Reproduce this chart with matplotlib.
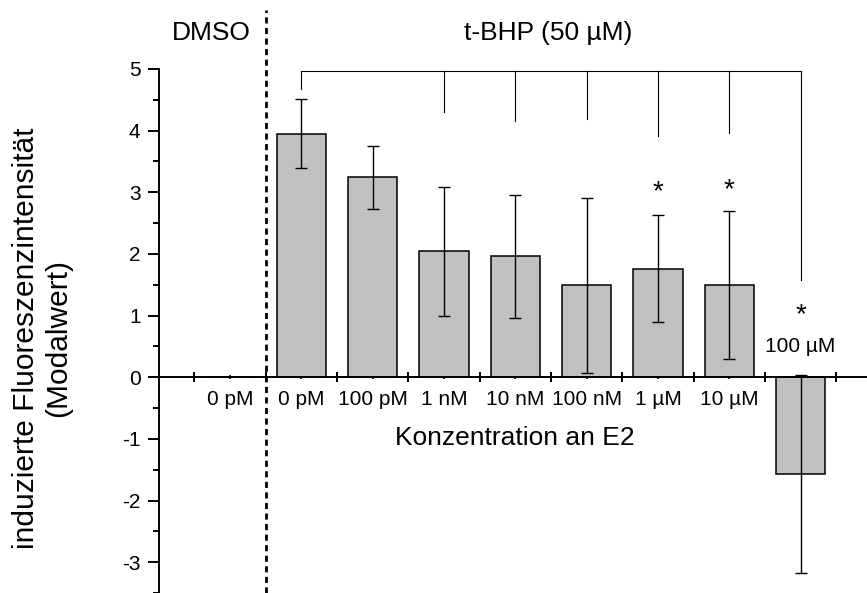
import matplotlib
matplotlib.use("Agg")
import matplotlib.pyplot as plt
import numpy as np

plt.rcParams['font.family'] = ['Liberation Sans', 'DejaVu Sans']
plt.rcParams['axes.unicode_minus'] = False

# ---- data ----
categories = ["0 pM", "0 pM", "100 pM", "1 nM", "10 nM", "100 nM", "1 µM", "10 µM", "100 µM"]
values = [0.0, 3.95, 3.24, 2.04, 1.96, 1.49, 1.76, 1.49, -1.57]
errors = [0.0, 0.56, 0.51, 1.05, 1.00, 1.42, 0.87, 1.20, 1.60]
has_err = [False, True, True, True, True, True, True, True, True]
significant = [False, False, False, False, False, False, True, True, True]
star_y = [None, None, None, None, None, None, 3.0, 3.03, 1.01]
bracket_from = 2
bracket_targets = [2, 4, 5, 6, 7, 8, 9]
bracket_drop_ends = [4.67, 4.30, 4.16, 4.19, 3.92, 3.96, 1.57]
bracket_level = 4.97
y_ticks = [-3, -2, -1, 0, 1, 2, 3, 4, 5]

W, H = 867, 593
fig = plt.figure(figsize=(W / 100, H / 100), dpi=100)
left_px, top_px = 158.6, 69.0
ax = fig.add_axes([left_px / W, 0.0, 1 - left_px / W, (H - top_px) / H])

x = np.arange(1, len(categories) + 1)
ax.bar(x, values, width=0.69, color='#c0c0c0', edgecolor='black', linewidth=1.1, zorder=2)
xe = x[np.array(has_err)]
ve = np.array(values)[np.array(has_err)]
ee = np.array(errors)[np.array(has_err)]
ax.errorbar(xe, ve, yerr=ee, fmt='none', ecolor='black', elinewidth=1.0,
            capsize=4, capthick=1.0, zorder=3)

ax.set_xlim(0, 9.93)
ax.set_ylim(-3.5, 5)

for s in ['top', 'right']:
    ax.spines[s].set_visible(False)
ax.spines['bottom'].set_position(('data', 0))
ax.spines['left'].set_linewidth(1.4)
ax.spines['bottom'].set_linewidth(1.4)

ax.set_yticks(y_ticks)
ax.set_yticks(np.arange(-3.5, 5.01, 0.5), minor=True)
ax.tick_params(axis='y', which='major', direction='out', length=8, width=1.4,
               labelsize=15, pad=5)
ax.tick_params(axis='y', which='minor', direction='out', length=4.3, width=1.4)

ax.set_xticks(np.arange(0.5, 10, 1.0))
ax.set_xticklabels([])
ax.set_xticks(x, minor=True)
ax.set_xticklabels([c if i < 8 else "" for i, c in enumerate(categories)], minor=True)
ax.tick_params(axis='x', which='major', direction='inout', length=7.2, width=1.4)
ax.tick_params(axis='x', which='minor', direction='inout', length=3, width=1.2,
               labelsize=15, pad=7.5)

# dashed separator
ax.plot([1.5, 1.5], [-3.5, 5.95], linestyle=(0, (2.2, 1.6)), color='black', lw=2.0,
        clip_on=False, zorder=4)

# significance bracket
ax.plot([bracket_from, bracket_targets[-1]], [bracket_level, bracket_level],
        color='black', lw=0.8, clip_on=False)
for t, e in zip(bracket_targets, bracket_drop_ends):
    ax.plot([t, t], [bracket_level, e], color='black', lw=0.8, clip_on=False)

for xi, sig, sy in zip(x, significant, star_y):
    if sig:
        ax.text(xi, sy, "*", ha='center', va='center', fontsize=20)

ax.text(9, 0.5, categories[8], ha='center', va='center', fontsize=15)

ax.text(0.734, 5.58, "DMSO", ha='center', va='center', fontsize=19)
ax.text(5.46, 5.58, "t-BHP (50 µM)", ha='center', va='center', fontsize=19)
ax.text(5.0, -0.98, "Konzentration an E2", ha='center', va='center', fontsize=19)

fig.text(42 / W, 1 - 338 / H, "induzierte Fluoreszenzintensität\n(Modalwert)",
         rotation=90, ha='center', va='center', fontsize=21.5, multialignment='center',
         linespacing=1.15)

fig.savefig("out.png", dpi=100)
